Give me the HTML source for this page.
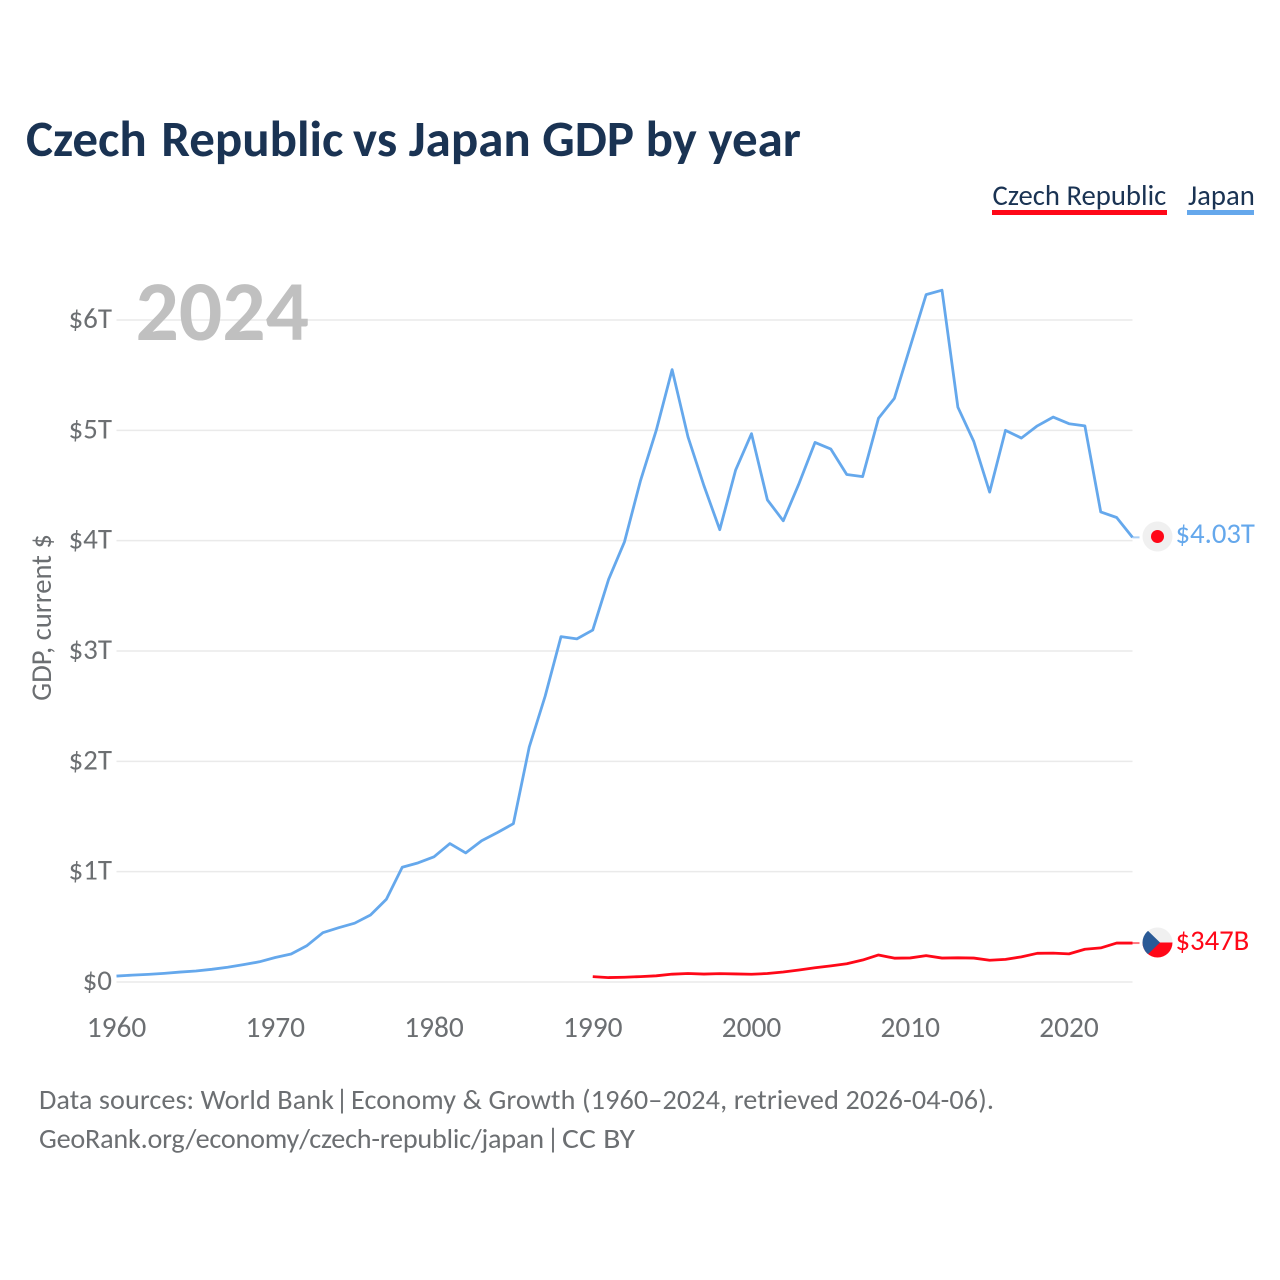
<!DOCTYPE html>
<html lang="en">
<head>
<meta charset="utf-8">
<title>Czech Republic vs Japan GDP by year</title>
<style>
  html, body { margin: 0; padding: 0; background: #fff; width: 1280px; height: 1280px; overflow: hidden; }
  svg { display: block; font-family: "Carlito", "Lato", "Liberation Sans", sans-serif; }
</style>
</head>
<body>
<svg id="chart" width="1280" height="1280" viewBox="0 0 1280 1280" xmlns="http://www.w3.org/2000/svg">
  <rect width="1280" height="1280" fill="#ffffff"/>
  <text x="26" y="156" font-size="51" font-weight="700" fill="#1a3353">Czech <tspan dx="3">Republic</tspan> <tspan dx="-2">vs</tspan> Japan GDP by year</text>

  <text x="992.5" y="205" font-size="28.7" fill="#1a3353">Czech Republic</text>
  <rect x="992" y="210" width="175" height="5" fill="#ff0818"/>
  <text x="1188" y="205" font-size="28.7" fill="#1a3353">Japan</text>
  <rect x="1187" y="210" width="67" height="5" fill="#65a8ec"/>

  <g id="grid"></g>
  <g id="yticks"></g>
  <g id="xticks"></g>

  <text x="135.5" y="340" font-size="85.6" font-weight="700" fill="#c0c0c0">2024</text>
  <text transform="translate(51 617.5) rotate(-90)" text-anchor="middle" font-size="28.6" fill="#6c6f72">GDP, current $</text>

  <g id="series"></g>

  <g>
    <circle cx="1157.5" cy="536.5" r="15" fill="#f0f0f0"/>
    <circle cx="1157.5" cy="536.5" r="6.5" fill="#ff0818"/>
  </g>
  <text x="1175.5" y="543" font-size="28.7" fill="#65a8ec">$4.03T</text>

  <g>
    <clipPath id="czech-clip"><circle cx="1157.5" cy="942.5" r="15"/></clipPath>
    <g clip-path="url(#czech-clip)">
      <rect x="1142" y="927" width="31" height="15.5" fill="#f0f0f0"/>
      <rect x="1142" y="942.5" width="31" height="16" fill="#ff0818"/>
      <polygon points="1142,925 1160,942.5 1142,960" fill="#2a5a96"/>
    </g>
  </g>
  <text x="1175.5" y="950" font-size="28.7" fill="#ff0818">$347B</text>

  <g font-size="28.2" fill="#6c6f72">
    <text x="39" y="1109" textLength="295">Data sources: World Bank</text>
    <text x="342" y="1109" text-anchor="middle">|</text>
    <text x="351" y="1109" textLength="643">Economy &amp; Growth (1960–2024, retrieved 2026-04-06).</text>
    <text x="39" y="1148" textLength="505">GeoRank.org/economy/czech-republic/japan</text>
    <text x="553" y="1148" text-anchor="middle">|</text>
    <text x="562" y="1148" textLength="73" lengthAdjust="spacingAndGlyphs">CC BY</text>
  </g>
</svg>

<script>
const japanYears = [1960,1961,1962,1963,1964,1965,1966,1967,1968,1969,1970,1971,1972,1973,1974,1975,1976,1977,1978,1979,1980,1981,1982,1983,1984,1985,1986,1987,1988,1989,1990,1991,1992,1993,1994,1995,1996,1997,1998,1999,2000,2001,2002,2003,2004,2005,2006,2007,2008,2009,2010,2011,2012,2013,2014,2015,2016,2017,2018,2019,2020,2021,2022,2023,2024];
const japanGdp = [0.054,0.062,0.069,0.078,0.090,0.100,0.115,0.134,0.157,0.183,0.222,0.254,0.330,0.447,0.492,0.533,0.607,0.750,1.04,1.08,1.135,1.255,1.17,1.28,1.355,1.435,2.13,2.59,3.13,3.11,3.19,3.65,3.99,4.54,5.00,5.55,4.94,4.50,4.10,4.64,4.97,4.37,4.18,4.52,4.89,4.83,4.60,4.58,5.11,5.29,5.76,6.23,6.27,5.21,4.90,4.44,5.00,4.93,5.04,5.12,5.06,5.04,4.26,4.21,4.03];
const czechYears = [1990,1991,1992,1993,1994,1995,1996,1997,1998,1999,2000,2001,2002,2003,2004,2005,2006,2007,2008,2009,2010,2011,2012,2013,2014,2015,2016,2017,2018,2019,2020,2021,2022,2023,2024];
const czechGdp = [0.049,0.040,0.043,0.049,0.056,0.071,0.077,0.072,0.076,0.073,0.070,0.077,0.091,0.109,0.129,0.146,0.165,0.199,0.245,0.216,0.218,0.239,0.217,0.219,0.217,0.197,0.205,0.228,0.260,0.262,0.255,0.297,0.309,0.353,0.353];
const yTickValues = [0,1,2,3,4,5,6];
const yTickLabels = ['$0','$1T','$2T','$3T','$4T','$5T','$6T'];
const xTickYears = [1960,1970,1980,1990,2000,2010,2020];

const SVG_NS = 'http://www.w3.org/2000/svg';
const xScale = year => 116.5 + (year - 1960) * (1132.5 - 116.5) / 64;
const yScale = value => 982 - value * (982 - 320) / 6;

const grid = document.getElementById('grid');
const yticks = document.getElementById('yticks');
const xticks = document.getElementById('xticks');
const seriesLayer = document.getElementById('series');

yTickValues.forEach((value, i) => {
  const line = document.createElementNS(SVG_NS, 'line');
  
  
  line.setAttribute('x1', xScale(1960));
  line.setAttribute('x2', xScale(2024));
  line.setAttribute('y1', yScale(value));
  line.setAttribute('y2', yScale(value));
  line.setAttribute('stroke', '#eaeaea');
  line.setAttribute('stroke-width', '1.5');
  grid.appendChild(line);

  const label = document.createElementNS(SVG_NS, 'text');
  
  
  label.setAttribute('x', 112);
  label.setAttribute('y', yScale(value) + 8);
  label.setAttribute('text-anchor', 'end');
  label.setAttribute('font-size', '29');
  label.setAttribute('fill', '#6c6f72');
  label.textContent = yTickLabels[i];
  yticks.appendChild(label);
});

xTickYears.forEach(year => {
  const label = document.createElementNS(SVG_NS, 'text');
  
  
  label.setAttribute('x', xScale(year));
  label.setAttribute('y', 1037);
  label.setAttribute('text-anchor', 'middle');
  label.setAttribute('font-size', '29.4');
  label.setAttribute('fill', '#6c6f72');
  label.textContent = String(year);
  xticks.appendChild(label);
});

function drawSeries(years, values, color, name) {
  const line = document.createElementNS(SVG_NS, 'polyline');
  
  
  line.setAttribute('points', years.map((year, i) => xScale(year) + ',' + yScale(values[i])).join(' '));
  line.setAttribute('fill', 'none');
  line.setAttribute('stroke', color);
  line.setAttribute('stroke-width', '2.8');
  line.setAttribute('stroke-linejoin', 'round');
  seriesLayer.appendChild(line);

  const lastYear = years[years.length - 1];
  const lastValue = values[values.length - 1];
  const connector = document.createElementNS(SVG_NS, 'line');
  
  
  connector.setAttribute('x1', xScale(lastYear));
  connector.setAttribute('x2', xScale(lastYear) + 7);
  connector.setAttribute('y1', yScale(lastValue));
  connector.setAttribute('y2', yScale(lastValue));
  connector.setAttribute('stroke', color);
  connector.setAttribute('stroke-opacity', '0.55');
  connector.setAttribute('stroke-width', '2');
  seriesLayer.appendChild(connector);
}

drawSeries(japanYears, japanGdp, '#65a8ec', 'japan-line');
drawSeries(czechYears, czechGdp, '#ff0818', 'czech-republic-line');
</script>
</body>
</html>
